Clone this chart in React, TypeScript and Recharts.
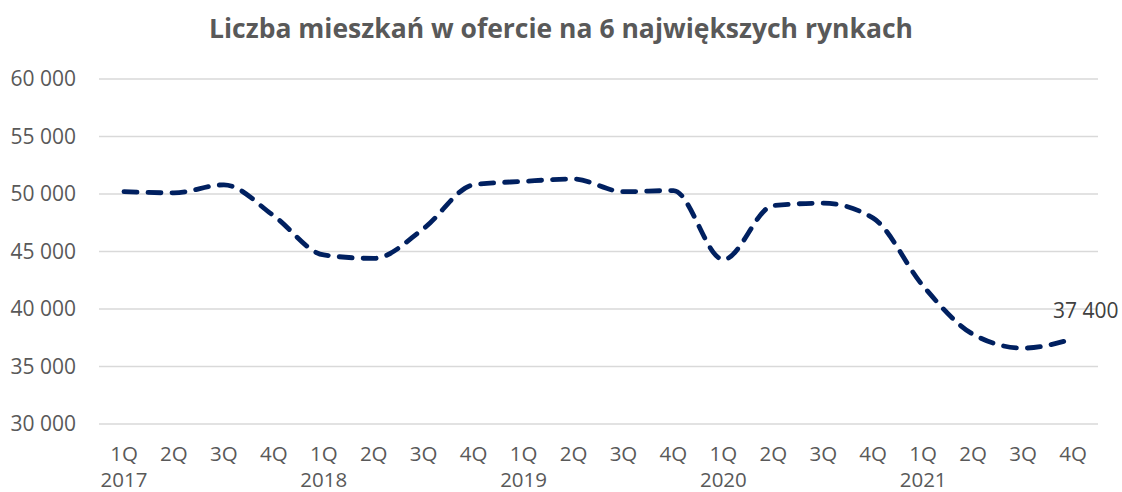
import React from 'react';
import { LineChart, Line, XAxis, YAxis, CartesianGrid, LabelList } from 'recharts';

const title = 'Liczba mieszkań w ofercie na 6 największych rynkach';
const quarters = ['1Q', '2Q', '3Q', '4Q', '1Q', '2Q', '3Q', '4Q', '1Q', '2Q', '3Q', '4Q', '1Q', '2Q', '3Q', '4Q', '1Q', '2Q', '3Q', '4Q'];
const years = ['2017', '', '', '', '2018', '', '', '', '2019', '', '', '', '2020', '', '', '', '2021', '', '', ''];
const offers = [50200, 50100, 50800, 48100, 44700, 44400, 47000, 50800, 51100, 51300, 50200, 50300, 44300, 49000, 49200, 47900, 42000, 37800, 36600, 37400];
const yTicks = [30000, 35000, 40000, 45000, 50000, 55000, 60000];

const data = quarters.map((q, i) => ({ key: i, q, year: years[i], value: offers[i] }));

const FONT = '"Open Sans", "Liberation Sans", sans-serif';
const TXT = '#595959';

const fmt = (v: number) => String(v).replace(/\B(?=(\d{3})+(?!\d))/g, ' ');

const XTick = (props: any) => {
  const { x, y, payload } = props;
  const i = payload.value as number;
  return (
    <text x={x} y={y + 37} textAnchor="middle" fill={TXT} fontSize={20.5} fontFamily={FONT}>
      <tspan x={x}>{quarters[i]}</tspan>
      {years[i] ? <tspan x={x} dy={26}>{years[i]}</tspan> : null}
    </text>
  );
};

const YTick = (props: any) => {
  const { x, y, payload } = props;
  return (
    <text x={x} y={y + 7} textAnchor="end" fill={TXT} fontSize={21} fontFamily={FONT}>{fmt(payload.value)}</text>
  );
};

const LastLabel = (props: any) => {
  const { x, y, index, value } = props;
  if (index !== offers.length - 1) return null;
  return (
    <text x={x - 20} y={y - 21} textAnchor="start" fill="#404040" fontSize={21} fontFamily={FONT}>{fmt(value)}</text>
  );
};

export default function App() {
  return (
    <div style={{ position: 'absolute', left: 0, top: 0, width: 1122, height: 492, background: '#fff' }}>
      <div style={{ position: 'absolute', left: 0, top: 10, width: 1122, textAlign: 'center', fontFamily: FONT, fontWeight: 700, fontSize: 26.5, color: TXT, lineHeight: '36px' }}>
        {title}
      </div>
      <LineChart width={1122} height={492} data={data} margin={{ top: 79, right: 24, bottom: 0, left: 0 }}>
        <CartesianGrid vertical={false} stroke="#d9d9d9" strokeWidth={1.5} />
        <XAxis dataKey="key" type="category" axisLine={false} tickLine={false} tickSize={0} tickMargin={0} height={68} padding={{ left: 25, right: 25 }} tick={<XTick />} interval={0} />
        <YAxis domain={[30000, 60000]} ticks={yTicks} axisLine={false} tickLine={false} tickSize={0} tickMargin={23} width={99} tick={<YTick />} interval={0} />
        <Line dataKey="value" type="monotone" stroke="#002060" strokeWidth={4.8} strokeDasharray="13 11" strokeLinecap="round" dot={false} isAnimationActive={false}>
          <LabelList dataKey="value" content={<LastLabel />} />
        </Line>
      </LineChart>
    </div>
  );
}
